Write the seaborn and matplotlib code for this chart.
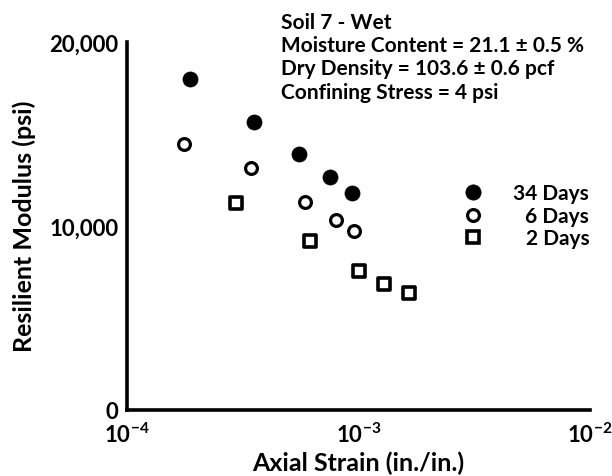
import matplotlib
matplotlib.use("Agg")
import matplotlib.pyplot as plt
from matplotlib.lines import Line2D
from matplotlib.ticker import FixedLocator, FuncFormatter, LogLocator, NullFormatter
import pandas as pd
import seaborn as sns

# Resilient modulus (psi) versus axial strain (in./in.) for each curing time
strain_34 = [1.88e-4, 3.54e-4, 5.55e-4, 7.53e-4, 9.35e-4]
modulus_34 = [18000, 15660, 13900, 12670, 11770]
strain_6 = [1.76e-4, 3.42e-4, 5.87e-4, 8.0e-4, 9.59e-4]
modulus_6 = [14430, 13130, 11310, 10330, 9730]
strain_2 = [2.95e-4, 6.19e-4, 1.005e-3, 1.29e-3, 1.66e-3]
modulus_2 = [11240, 9170, 7540, 6830, 6340]
series_labels = ["34 Days", "6 Days", "2 Days"]

y_tick_values = [0, 10000, 20000]
y_tick_labels = ["0", "10,000", "20,000"]
x_tick_values = [1e-4, 1e-3, 1e-2]
x_tick_labels = [r"$10^{-4}$", r"$10^{-3}$", r"$10^{-2}$"]

info_lines = [
    "Soil 7 - Wet",
    "Moisture Content = 21.1 \u00b1 0.5 %",
    "Dry Density = 103.6 \u00b1 0.6 pcf",
    "Confining Stress = 4 psi",
]

sns.set_theme(style="white")
plt.rcParams["font.family"] = ["Lato", "DejaVu Sans"]
plt.rcParams["font.weight"] = "bold"
plt.rcParams["mathtext.default"] = "regular"
plt.rcParams["text.color"] = "black"
plt.rcParams["axes.labelcolor"] = "black"
plt.rcParams["axes.labelweight"] = "bold"
plt.rcParams["xtick.color"] = "black"
plt.rcParams["ytick.color"] = "black"

fig = plt.figure(figsize=(6.12, 4.77), dpi=100)
ax = fig.add_axes([127 / 612, 1 - 410.5 / 477, (590 - 127) / 612, (410.5 - 43) / 477])

df34 = pd.DataFrame({"strain": strain_34, "modulus": modulus_34})
df6 = pd.DataFrame({"strain": strain_6, "modulus": modulus_6})
df2 = pd.DataFrame({"strain": strain_2, "modulus": modulus_2})

sns.scatterplot(data=df34, x="strain", y="modulus", ax=ax, marker="o", s=118,
                color="black", edgecolor="black", linewidth=0.5, legend=False, zorder=3)
sns.scatterplot(data=df6, x="strain", y="modulus", ax=ax, marker="o", s=72,
                color="white", edgecolor="black", linewidth=2.3, legend=False, zorder=3)
sns.scatterplot(data=df2, x="strain", y="modulus", ax=ax, marker="s", s=72,
                color="white", edgecolor="black", linewidth=2.6, legend=False, zorder=3)

ax.set_xscale("log")
ax.set_xlim(1e-4, 1e-2)
ax.set_ylim(0, 20000)

ax.xaxis.set_major_locator(FixedLocator(x_tick_values))
ax.xaxis.set_major_formatter(FuncFormatter(
    lambda v, p: x_tick_labels[x_tick_values.index(min(x_tick_values, key=lambda t: abs(t - v)))]))
ax.xaxis.set_minor_locator(LogLocator(base=10, subs=range(2, 10)))
ax.xaxis.set_minor_formatter(NullFormatter())

ax.yaxis.set_major_locator(FixedLocator([0, 5000, 10000, 15000, 20000]))
ax.yaxis.set_major_formatter(FuncFormatter(
    lambda v, p: y_tick_labels[y_tick_values.index(int(round(v)))] if int(round(v)) in y_tick_values else ""))
ax.yaxis.set_minor_locator(FixedLocator([2500, 7500, 12500, 17500]))

ax.tick_params(which="major", direction="in", length=11, width=1.2, labelsize=16, pad=6)
ax.tick_params(which="minor", direction="in", length=4, width=1.6)
ax.tick_params(axis="x", which="major", pad=9)

for side in ["top", "right"]:
    ax.spines[side].set_visible(False)
for side in ["left", "bottom"]:
    ax.spines[side].set_linewidth(2.6)
    ax.spines[side].set_color("black")

ax.set_xlabel("Axial Strain (in./in.)", fontsize=18, labelpad=3)
ax.set_ylabel("Resilient Modulus (psi)", fontsize=18, labelpad=10)

fig.text(281 / 612, 1 - 13 / 477, "\n".join(info_lines), fontsize=15,
         ha="left", va="top", linespacing=1.2)

handles = [
    Line2D([], [], linestyle="none", marker="o", markersize=11, markerfacecolor="black",
           markeredgecolor="black", markeredgewidth=0.5),
    Line2D([], [], linestyle="none", marker="o", markersize=8.5, markerfacecolor="white",
           markeredgecolor="black", markeredgewidth=2.3),
    Line2D([], [], linestyle="none", marker="s", markersize=8.5, markerfacecolor="white",
           markeredgecolor="black", markeredgewidth=2.6),
]
leg = ax.legend(handles, series_labels, loc="center left", bbox_to_anchor=(0.702, 0.527),
                frameon=False, fontsize=15, handlelength=1.0, handletextpad=1.45,
                labelspacing=0.12, borderpad=0)
# right-align the legend labels against the widest one
fig.canvas.draw()
renderer = fig.canvas.get_renderer()
widths = [t.get_window_extent(renderer).width for t in leg.get_texts()]
widest = max(widths)
for t, w in zip(leg.get_texts(), widths):
    t.set_position((widest - w, 0))

fig.savefig("out.png", dpi=100)
